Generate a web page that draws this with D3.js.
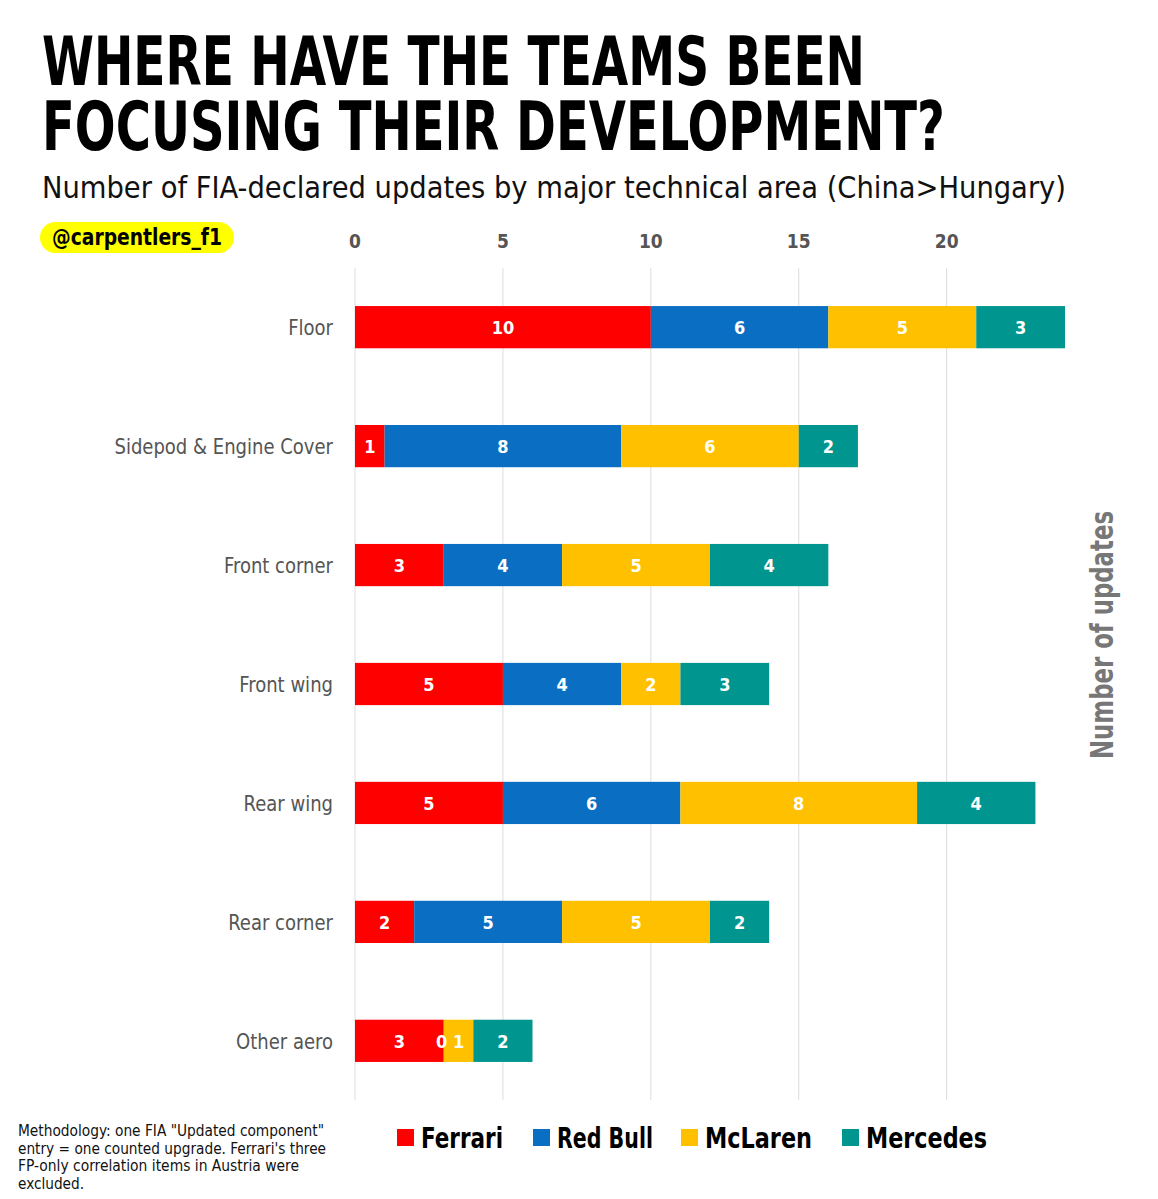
<!DOCTYPE html>
<html>
<head>
<meta charset="utf-8">
<script src="https://cdn.jsdelivr.net/npm/d3@7"></script>
<style>
  body { margin: 0; background: #fff; }
  svg { display: block; }
</style>
</head>
<body>
<svg id="chart" width="1158" height="1199"></svg>
<script>
// data
var areas = ["Floor", "Sidepod & Engine Cover", "Front corner", "Front wing", "Rear wing", "Rear corner", "Other aero"];
var teams = ["Ferrari", "Red Bull", "McLaren", "Mercedes"];
var teamColors = ["#fe0000", "#0a6fc2", "#ffc000", "#00968f"];
var ferrari = [10, 1, 3, 5, 5, 2, 3];
var redBull = [6, 8, 4, 4, 6, 5, 0];
var mclaren = [5, 6, 5, 2, 8, 5, 1];
var mercedes = [3, 2, 4, 3, 4, 2, 2];
var xTicks = [0, 5, 10, 15, 20];

var svg = d3.select("#chart");
var condensed = "'Liberation Sans Narrow', 'DejaVu Sans Condensed', sans-serif";

var rows = areas.map(function(a, i) {
  return { area: a, Ferrari: ferrari[i], "Red Bull": redBull[i], McLaren: mclaren[i], Mercedes: mercedes[i] };
});
var stacked = d3.stack().keys(teams)(rows);

var x = d3.scaleLinear().domain([0, 24]).range([355, 1065]);
var y = d3.scaleBand().domain(areas).range([268, 1100]).paddingInner(0.645).paddingOuter(0.32);
var color = d3.scaleOrdinal().domain(teams).range(teamColors);

// stretch a text to a given width
function fit(sel, w) {
  sel.attr("textLength", w).attr("lengthAdjust", "spacingAndGlyphs");
}

// title
svg.append("text").attr("x", 42).attr("y", 85)
  .style("font-family", condensed).style("font-weight", "bold").style("font-size", "68px")
  .text("WHERE HAVE THE TEAMS BEEN").call(fit, 823);
svg.append("text").attr("x", 42).attr("y", 150)
  .style("font-family", condensed).style("font-weight", "bold").style("font-size", "68px")
  .text("FOCUSING THEIR DEVELOPMENT?").call(fit, 903);
svg.append("text").attr("x", 42).attr("y", 198)
  .style("font-family", condensed).style("font-size", "31px").style("fill", "#111")
  .text("Number of FIA-declared updates by major technical area (China>Hungary)").call(fit, 1024);

// handle pill
svg.append("rect").attr("x", 40).attr("y", 222).attr("width", 194).attr("height", 31)
  .attr("rx", 15.5).style("fill", "#ffff00");
svg.append("text").attr("x", 137).attr("y", 245).attr("text-anchor", "middle")
  .style("font-family", condensed).style("font-weight", "bold").style("font-size", "23px")
  .text("@carpentlers_f1").call(fit, 170);

// grid
svg.append("g").selectAll("line").data(xTicks).join("line")
  .attr("x1", function(d) { return x(d); }).attr("x2", function(d) { return x(d); })
  .attr("y1", 268).attr("y2", 1100)
  .style("stroke", "#dcdcdc").style("stroke-width", 1);

// top axis labels
svg.append("g").selectAll("text").data(xTicks).join("text")
  .attr("x", function(d) { return x(d); }).attr("y", 248).attr("text-anchor", "middle")
  .style("font-family", condensed).style("font-weight", "bold").style("font-size", "19px")
  .style("fill", "#555").text(function(d) { return d; });

// bars
var layer = svg.append("g").selectAll("g").data(stacked).join("g")
  .style("fill", function(d) { return color(d.key); });
layer.selectAll("rect").data(function(d) { return d; }).join("rect")
  .attr("x", function(d) { return x(d[0]); })
  .attr("y", function(d) { return y(d.data.area); })
  .attr("width", function(d) { return x(d[1]) - x(d[0]); })
  .attr("height", y.bandwidth());

// value labels (a zero segment gets its label on the segment edge)
var labels = svg.append("g");
stacked.forEach(function(s) {
  s.forEach(function(d) {
    var v = d[1] - d[0];
    var cx = v === 0 ? x(d[0]) - 2 : (x(d[0]) + x(d[1])) / 2;
    labels.append("text")
      .attr("x", cx).attr("y", y(d.data.area) + y.bandwidth() / 2 + 7)
      .attr("text-anchor", "middle")
      .style("font-family", "'DejaVu Sans Condensed', sans-serif").style("font-weight", "bold")
      .style("font-size", "18px").style("fill", "#fff")
      .text(v);
  });
});

// category labels, squeezed a bit to look like the narrow face
svg.append("g").selectAll("text").data(areas).join("text")
  .attr("x", 333).attr("y", function(d) { return y(d) + y.bandwidth() / 2 + 8; })
  .attr("text-anchor", "end")
  .style("font-family", condensed).style("font-size", "22px").style("fill", "#555")
  .text(function(d) { return d; })
  .each(function() {
    var w = this.getComputedTextLength();
    d3.select(this).call(fit, w * 0.91);
  });

// right axis title
svg.append("text").attr("transform", "translate(1113,635) rotate(-90)")
  .attr("text-anchor", "middle")
  .style("font-family", condensed).style("font-weight", "bold").style("font-size", "32px")
  .style("fill", "#777").text("Number of updates").call(fit, 248);

// legend
var legendX = [397, 533, 681, 842];
var legendW = [106, 120, 131, 145];
var leg = svg.append("g").selectAll("g").data(teams).join("g")
  .attr("transform", function(d, i) { return "translate(" + legendX[i] + ",1129)"; });
leg.append("rect").attr("width", 17).attr("height", 17)
  .style("fill", function(d) { return color(d); });
leg.append("text").attr("x", 24).attr("y", 19)
  .style("font-family", condensed).style("font-weight", "bold").style("font-size", "29px")
  .text(function(d) { return d; })
  .each(function(d, i) { d3.select(this).call(fit, legendW[i] - 24); });

// footnote
var notes = ["Methodology: one FIA \"Updated component\"", "entry = one counted upgrade. Ferrari's three",
  "FP-only correlation items in Austria were", "excluded."];
var noteW = [306, 308, 281, 66];
svg.append("g").selectAll("text").data(notes).join("text")
  .attr("x", 18).attr("y", function(d, i) { return 1136 + i * 17.5; })
  .style("font-family", condensed).style("font-size", "16px").style("fill", "#111")
  .text(function(d) { return d; })
  .each(function(d, i) { d3.select(this).call(fit, noteW[i]); });
</script>
</body>
</html>
